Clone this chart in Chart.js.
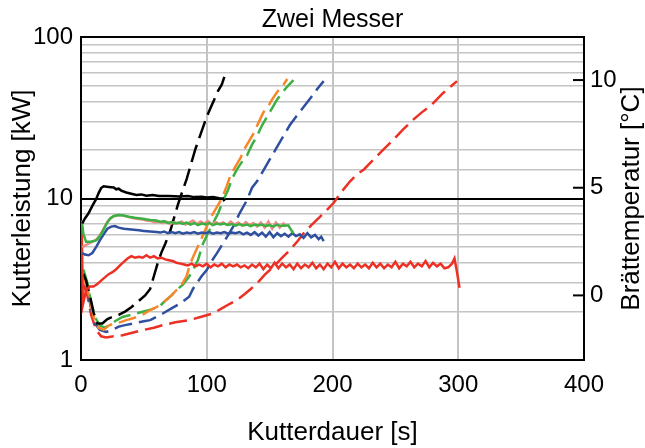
<!DOCTYPE html>
<html>
<head>
<meta charset="utf-8">
<script src="https://cdn.jsdelivr.net/npm/chart.js@4.4.1/dist/chart.umd.min.js"></script>
<style>
  body { margin: 0; background: #fff; }
  #chart { display: block; }
</style>
</head>
<body>
<canvas id="chart" width="645" height="448"></canvas>
<script>
// Kutterleistung [kW] (solid lines), pairs [time s, kW]
const powerBlack = [[1,7.0],[3,7.5],[6,8.1],[9,9.0],[12,9.9],[14,10.8],[16,11.6],[18,11.9],[22,11.8],[26,11.7],[28,11.4],[30,11.5],[32,11.2],[36,10.9],[40,10.7],[44,10.5],[48,10.6],[52,10.4],[57,10.5],[62,10.35],[70,10.35],[78,10.3],[85,10.35],[90,10.2],[96,10.25],[100,10.15],[105,10.2],[110,10.05],[113,10.0],[114,9.6]];
const powerGreen = [[0.5,7.3],[2,6.0],[4,5.4],[8,5.4],[12,5.5],[14,5.7],[17,6.2],[20,6.9],[23,7.5],[26,7.8],[30,7.9],[34,7.85],[38,7.7],[43,7.6],[49,7.5],[55,7.35],[60,7.3],[63,7.15],[66,7.25],[69,7.05],[72,7.15],[75,7.0],[78,7.1],[81,6.95],[84,7.1],[87,6.9],[90,7.05],[93,6.85],[96,7.0],[99,6.9],[102,7.05],[105,6.85],[108,7.0],[111,6.9],[114,7.0],[117,6.85],[120,6.95],[123,6.8],[126,6.95],[129,6.8],[132,6.9],[135,6.75],[138,6.9],[141,6.8],[144,6.9],[147,6.75],[150,6.85],[153,6.7],[156,6.9],[159,6.75],[162,6.8],[165,6.8],[167,6.4],[169,6.1]];
const powerPink = [[1,5.0],[3,5.1],[6,5.25],[9,5.4],[12,5.55],[15,5.9],[18,6.5],[21,7.2],[24,7.6],[27,7.8],[30,7.9],[33,7.85],[36,7.75],[40,7.6],[44,7.5],[48,7.45],[52,7.3],[56,7.25],[59,7.1],[62,7.2],[65,7.05],[68,7.2],[71,6.95],[74,7.15],[77,7.0],[80,7.2],[83,6.9],[86,7.1],[89,7.3],[92,6.95],[95,7.2],[98,7.0],[101,7.25],[104,6.9],[107,7.15],[110,6.95],[113,7.1],[116,6.85],[119,7.2],[122,6.9],[125,7.1],[128,6.8],[131,7.15],[134,6.85],[137,7.05],[140,6.7],[143,7.1],[146,6.6],[149,7.2],[152,6.5],[155,7.1],[158,6.6],[161,7.0],[163,6.7]];
const powerBlue = [[1,4.6],[3,4.5],[6,4.45],[9,4.6],[12,5.0],[15,5.5],[18,6.0],[21,6.5],[24,6.7],[27,6.75],[30,6.6],[34,6.5],[38,6.45],[42,6.4],[46,6.35],[50,6.3],[55,6.25],[60,6.2],[63,6.15],[66,6.25],[69,6.1],[72,6.2],[75,6.1],[78,6.2],[81,6.05],[84,6.15],[87,6.1],[90,6.2],[93,6.05],[96,6.15],[99,6.1],[102,6.2],[105,6.05],[108,6.15],[111,6.1],[114,6.2],[117,6.05],[120,6.15],[123,6.1],[126,6.2],[129,6.0],[132,6.15],[135,5.95],[138,6.2],[141,5.9],[144,6.15],[147,5.8],[150,6.2],[153,5.75],[156,6.1],[159,5.85],[162,6.05],[165,5.8],[168,6.1],[171,5.85],[174,6.0],[177,5.7],[180,6.1],[183,5.75],[186,5.95],[189,5.6],[191,5.8],[193,5.45]];
const powerRed = [[0.5,6.9],[1.5,2.2],[4,2.7],[7,2.85],[10,2.85],[13,2.95],[16,3.1],[19,3.25],[22,3.4],[25,3.5],[28,3.65],[31,3.85],[34,4.05],[37,4.25],[40,4.4],[43,4.3],[46,4.35],[49,4.3],[52,4.45],[55,4.3],[58,4.4],[61,4.25],[64,4.3],[67,4.2],[70,4.15],[73,4.1],[76,4.0],[79,3.95],[82,3.9],[85,3.85],[88,3.95],[91,3.8],[94,3.9],[97,3.8],[100,3.95],[103,3.75],[106,3.9],[109,3.8],[112,3.95],[115,3.75],[118,3.9],[121,3.8],[124,3.9],[127,3.75],[130,3.85],[133,3.7],[136,3.9],[139,3.75],[142,3.95],[145,3.65],[148,3.9],[151,3.7],[154,4.0],[157,3.7],[160,3.95],[163,3.75],[166,3.9],[169,3.65],[172,3.95],[175,3.7],[178,3.9],[181,3.75],[184,4.0],[187,3.7],[190,3.9],[193,3.65],[196,3.95],[199,3.75],[202,4.05],[205,3.7],[208,3.95],[211,3.75],[214,3.9],[217,3.7],[220,3.95],[223,3.75],[226,3.9],[229,3.7],[232,4.0],[235,3.75],[238,3.95],[241,3.7],[244,3.9],[247,3.75],[250,4.05],[253,3.7],[256,3.95],[259,3.8],[262,4.05],[265,3.75],[268,3.95],[271,3.8],[274,4.1],[277,3.75],[280,4.0],[283,3.8],[286,3.95],[289,3.7],[292,3.75],[295,3.95],[297,4.25],[299,3.5],[301,2.8]];

// Brättemperatur [°C] (dashed lines), pairs [time s, °C]
const tempBlack = [[2,1.0],[4,0.7],[7,0.0],[10,-0.8],[13,-1.3],[17,-1.3],[21,-1.1],[25,-1.0],[30,-0.9],[35,-0.75],[40,-0.55],[44,-0.35],[47,-0.2],[51,0.0],[55,0.3],[58,0.9],[61,1.5],[64,2.0],[67,2.4],[71,3.0],[74,3.6],[77,4.2],[81,4.9],[84,5.4],[87,6.0],[91,6.8],[94,7.3],[97,7.8],[100,8.3],[103,8.7],[106,9.1],[109,9.5],[112,9.8],[114,10.15]];
const tempOrange = [[2,0.8],[5,0.4],[8,-0.5],[11,-1.2],[14,-1.5],[18,-1.6],[22,-1.4],[26,-1.3],[31,-1.25],[36,-1.15],[42,-1.05],[49,-0.9],[55,-0.68],[60,-0.55],[64,-0.4],[68,-0.2],[72,0.0],[76,0.25],[80,0.5],[84,0.9],[87,1.5],[90,1.9],[94,2.4],[97,2.8],[100,3.2],[104,3.7],[108,4.1],[112,4.5],[116,5.1],[119,5.6],[123,6.0],[127,6.4],[130,6.8],[134,7.2],[137,7.5],[141,8.0],[145,8.5],[149,8.8],[152,9.1],[156,9.45],[160,9.7],[164,10.05]];
const tempGreen = [[2,1.2],[5,0.6],[8,-0.3],[11,-1.0],[15,-1.4],[19,-1.5],[22,-1.4],[27,-1.2],[33,-1.0],[40,-0.9],[49,-0.76],[56,-0.65],[62,-0.53],[68,-0.2],[72,0.0],[76,0.25],[81,0.5],[86,0.87],[90,1.3],[93,1.64],[97,2.4],[101,2.9],[105,3.35],[109,3.8],[113,4.4],[117,4.9],[120,5.4],[124,5.85],[128,6.2],[132,6.5],[136,7.0],[140,7.4],[144,7.9],[148,8.3],[152,8.7],[156,9.1],[160,9.4],[164,9.7],[169,10.0]];
const tempBlue = [[2,1.0],[5,0.3],[8,-0.6],[11,-1.3],[15,-1.6],[20,-1.7],[25,-1.6],[30,-1.45],[35,-1.38],[42,-1.3],[50,-1.2],[55,-1.15],[60,-1.0],[65,-0.84],[72,-0.6],[79,-0.37],[86,-0.06],[89,0.3],[92,0.56],[96,0.9],[100,1.18],[104,1.6],[108,1.95],[113,2.42],[117,2.8],[121,3.19],[126,3.8],[132,4.43],[136,5.0],[140,5.3],[145,5.8],[150,6.3],[155,6.8],[161,7.4],[166,7.9],[171,8.3],[175,8.6],[179,8.9],[183,9.2],[188,9.6],[193,9.95]];
const tempRed = [[2,0.5],[5,0.0],[8,-0.9],[12,-1.6],[16,-1.9],[20,-1.95],[26,-1.9],[33,-1.85],[40,-1.75],[50,-1.6],[58,-1.5],[65,-1.38],[75,-1.25],[86,-1.15],[95,-1.0],[105,-0.84],[112,-0.6],[118,-0.4],[124,-0.22],[130,0.05],[135,0.3],[140,0.56],[146,0.95],[153,1.33],[160,1.75],[166,2.1],[172,2.5],[177,2.88],[183,3.25],[190,3.65],[196,4.0],[201,4.3],[207,4.8],[214,5.3],[219,5.6],[225,5.85],[230,6.15],[235,6.45],[241,6.8],[248,7.2],[256,7.7],[264,8.15],[271,8.5],[278,8.8],[283,9.1],[288,9.4],[294,9.7],[299,9.95]];

const powerLabels = [1, 10, 100];
const tempTicks = [0, 5, 10];

const FONT = '"Liberation Sans", Arial, sans-serif';
Chart.defaults.font.family = FONT;
Chart.defaults.color = '#000';

function solid(data, color) {
  return { data: data, yAxisID: 'y', borderColor: color, borderWidth: 2.5, pointRadius: 0, tension: 0, fill: false };
}
function dashed(data, color) {
  return { data: data, yAxisID: 'y2', borderColor: color, borderWidth: 2.5, borderDash: [18, 7], pointRadius: 0, tension: 0, fill: false };
}

// inward ticks on the right axis and its title, read bottom to top
const rightAxisExtras = {
  id: 'rightAxisExtras',
  afterDraw(chart) {
    const ctx = chart.ctx;
    const s = chart.scales.y2;
    const a = chart.chartArea;
    ctx.save();
    ctx.strokeStyle = '#000';
    ctx.lineWidth = 2;
    tempTicks.forEach(v => {
      const y = s.getPixelForValue(v);
      ctx.beginPath();
      ctx.moveTo(a.right - 11, y);
      ctx.lineTo(a.right, y);
      ctx.stroke();
    });
    ctx.translate(632, (a.top + a.bottom) / 2);
    ctx.rotate(-Math.PI / 2);
    ctx.font = '26px ' + FONT;
    ctx.fillStyle = '#000';
    ctx.textAlign = 'center';
    ctx.textBaseline = 'middle';
    ctx.fillText('Brättemperatur [°C]', 0, 0);
    ctx.restore();
  }
};

new Chart(document.getElementById('chart'), {
  type: 'line',
  data: {
    datasets: [
      solid(powerBlack, '#000000'),
      solid(powerGreen, '#3cb043'),
      solid(powerPink, '#f08a84'),
      solid(powerBlue, '#2f4f9f'),
      solid(powerRed, '#ec3024'),
      dashed(tempBlack, '#000000'),
      dashed(tempOrange, '#f7862a'),
      dashed(tempGreen, '#3cb043'),
      dashed(tempBlue, '#2f4f9f'),
      dashed(tempRed, '#ec3024')
    ]
  },
  options: {
    responsive: false,
    animation: false,
    devicePixelRatio: 1,
    layout: { padding: 0 },
    plugins: {
      legend: { display: false },
      tooltip: { enabled: false },
      title: {
        display: true,
        fullSize: false,
        text: 'Zwei Messer',
        font: { size: 25, weight: 'normal' },
        padding: { top: 5, bottom: 2 }
      }
    },
    scales: {
      x: {
        type: 'linear',
        min: 0,
        max: 400,
        ticks: { stepSize: 100, font: { size: 24 }, padding: 11 },
        grid: { color: '#c4c4c4', lineWidth: 2, drawTicks: false },
        border: { color: '#000', width: 2 },
        title: { display: true, text: 'Kutterdauer [s]', font: { size: 26 }, padding: 0 },
        afterFit: s => { s.height = 88; }
      },
      y: {
        type: 'logarithmic',
        position: 'left',
        min: 1,
        max: 100,
        ticks: {
          autoSkip: false,
          font: { size: 24 },
          padding: 8,
          callback: v => powerLabels.includes(v) ? String(v) : ''
        },
        grid: {
          drawTicks: false,
          color: c => (c.tick && (c.tick.value === 10 || c.tick.value === 100)) ? '#000' : '#c4c4c4',
          lineWidth: c => (c.tick && (c.tick.value === 10 || c.tick.value === 100)) ? 2 : 1.5
        },
        border: { color: '#000', width: 2 },
        title: { display: true, text: 'Kutterleistung [kW]', font: { size: 26 }, padding: { top: 7 } },
        afterFit: s => { s.width = 81; }
      },
      y2: {
        type: 'linear',
        position: 'right',
        min: -3,
        max: 12,
        afterBuildTicks: s => { s.ticks = tempTicks.map(v => ({ value: v })); },
        ticks: { font: { size: 24 }, padding: 6 },
        grid: { display: false, drawTicks: false },
        border: { color: '#000', width: 2 },
        afterFit: s => { s.width = 61; }
      }
    }
  },
  plugins: [rightAxisExtras]
});
</script>
</body>
</html>
